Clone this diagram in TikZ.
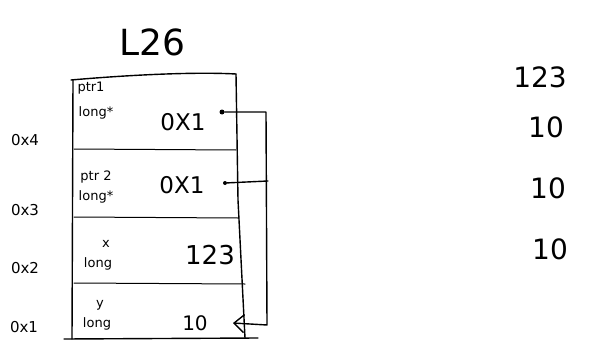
\documentclass[tikz,border=0pt]{standalone}
\usepackage{fontspec}
\setmainfont{DejaVu Sans}
\usetikzlibrary{arrows.meta}
\begin{document}
\begin{tikzpicture}[x=1pt,y=-1pt,
  ink/.style={line width=1.4pt,line cap=round,line join=round},
  thin/.style={line width=1pt,line cap=round},
  small/.style={font=\fontsize{13}{13}\selectfont,inner sep=0pt},
  addr/.style={font=\fontsize{15}{15}\selectfont,inner sep=0pt},
  val/.style={font=\fontsize{26}{26}\selectfont,inner sep=0pt},
  big/.style={font=\fontsize{36}{36}\selectfont,inner sep=0pt},
  ptrline/.style={ink,-{Straight Barb[length=10pt,width=18pt]}},
  dot/.style={circle,fill,inner sep=0pt,minimum size=5pt}]
\useasboundingbox (0,0) rectangle (612,350);
% title
\node[big] (title) at (152,42) {L26};
% box
\draw[ink] (73,80) -- (72,339);
\draw[ink] (71,80) .. controls (140,74) and (200,72) .. (236,74);
\draw[ink] (236,74) -- (238,200) -- (245,338);
\draw[ink] (64,339) -- (258,338);
% dividers
\draw[thin] (74,149) -- (236,150);
\draw[thin] (74,217) -- (238,218);
\draw[thin] (74,283) -- (245,284);
% row 1
\node[small] (n1) at (91,88) {ptr1};
\node[small] (t1) at (96,113) {long*};
\node[val,font=\fontsize{23}{23}\selectfont] (v1) at (183,122) {0X1};
% row 2
\node[small] (n2) at (96,177) {ptr 2};
\node[small] (t2) at (96,197) {long*};
\node[val,font=\fontsize{23}{23}\selectfont] (v2) at (182,185) {0X1};
% row 3
\node[small] (n3) at (106,244) {x};
\node[small] (t3) at (98,264) {long};
\node[val] (v3) at (210,255) {123};
% row 4
\node[small] (n4) at (100,305) {y};
\node[small] (t4) at (97,324) {long};
\node[val,font=\fontsize{20}{20}\selectfont] (v4) at (195,323) {10};
% addresses
\node[addr] (a4) at (25,140) {0x4};
\node[addr] (a3) at (25,210) {0x3};
\node[addr] (a2) at (25,268) {0x2};
\node[addr] (a1) at (24,327) {0x1};
% right column
\node[val,font=\fontsize{28}{28}\selectfont] (r1) at (540,77) {123};
\node[val,font=\fontsize{28}{28}\selectfont] (r2) at (546,127) {10};
\node[val,font=\fontsize{28}{28}\selectfont] (r3) at (548,188) {10};
\node[val,font=\fontsize{28}{28}\selectfont] (r4) at (550,249) {10};
% pointers
\node[dot] (d1) at (222,112) {};
\node[dot,minimum size=4pt] (d2) at (225,183) {};
\coordinate (ytgt) at (233,323);
\coordinate (c1) at (266,112);
\coordinate (c2) at (268,181);
\coordinate (c3) at (267,325);
\draw[ptrline] (d1) -- (c1) -- (c3) -- (ytgt);
\draw[ink] (d2) -- (c2);
\end{tikzpicture}
\end{document}
